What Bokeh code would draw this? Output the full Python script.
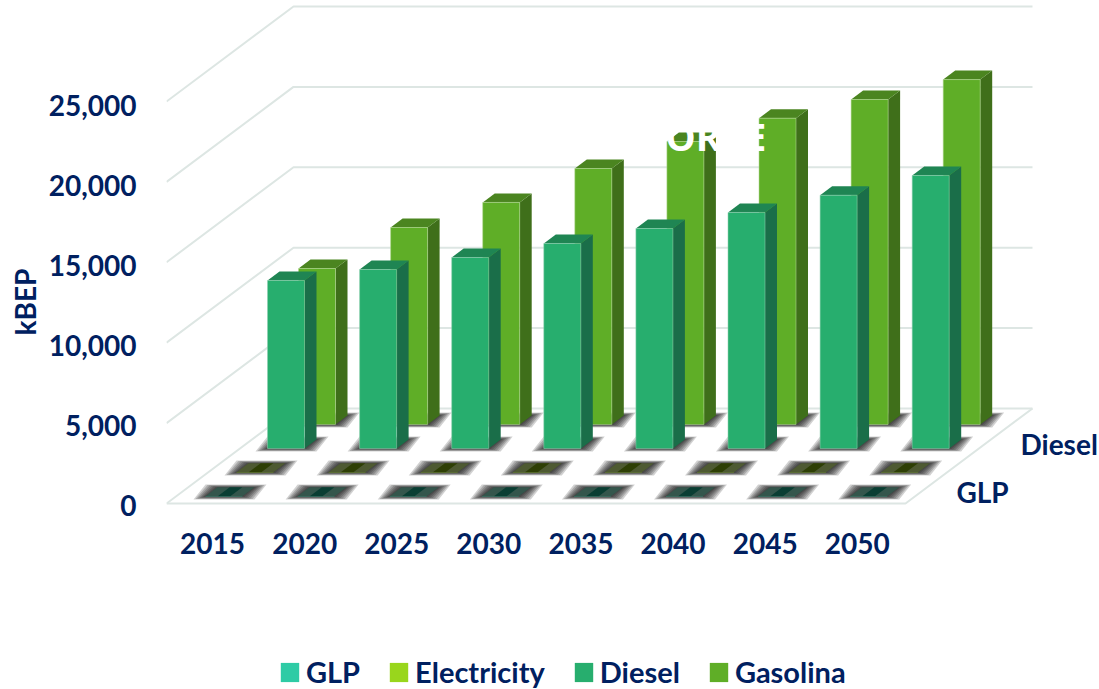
from bokeh.plotting import figure
from bokeh.models import FixedTicker, Legend, LegendItem, LinearAxis, NumeralTickFormatter, Range1d, Title
from bokeh.core.properties import value
from bokeh.embed import file_html
from bokeh.resources import INLINE

years = [2015, 2020, 2025, 2030, 2035, 2040, 2045, 2050]
glp = [10, 10, 10, 10, 10, 10, 10, 10]
electricity = [10, 10, 10, 10, 10, 10, 10, 10]
diesel = [10450, 11130, 11880, 12750, 13680, 14680, 15750, 16980]
gasolina = [9700, 12250, 13810, 15920, 17600, 19050, 20210, 21450]
value_ticks = [0, 5000, 10000, 15000, 20000, 25000]
series_names = ["GLP", "Electricity", "Diesel", "Gasolina"]
depth_labels = ["GLP", "Diesel"]
depth_label_rows = [0, 2]
watermark = "ORCE"

NAVY = "#002060"
FONT = "Lato"
GRID = "#dde6e3"
FRONT = ["#2ecba5", "#99d61c", "#27ae6e", "#5fae27"]
SIDE = ["#1a6e49", "#3f6f1a", "#1a6e49", "#3f6f1a"]
TOP = ["#0a3e33", "#2e3f05", "#1f8553", "#4b8520"]
EDGE = ["#2ecba5", "#99d61c", "#8fcfb0", "#b5d896"]
FLAT_SOFT = ["#34564c", "#4e5a32"]

# pixel scales of the projected chart
PX = 92.1          # px per category
PY = 0.01608       # px per kBEP on the back wall
PY_FRONT = 0.016   # px per kBEP on the front edge, where the value labels sit
LEFT, BOTTOM = 166, 503
WIDTH, HEIGHT = 1099, 689
TXT = "28px"


def dx(px):
    return px / PX


def dy(px):
    return px / PY


def bx(i, row, u=0.0, d=0.0, extra=0.0):
    return i - 0.5 + dx(39 + 31 * row + 37 * u + 12 * d + extra)


def by(row, v=0.0, d=0.0, extra=0.0):
    return v + dy(7 + 24 * row + 9 * d + extra)


p = figure(
    width=WIDTH, height=HEIGHT, output_backend="svg", toolbar_location=None,
    x_range=Range1d(-0.5, -0.5 + dx(WIDTH - LEFT)),
    y_range=Range1d(dy(BOTTOM - HEIGHT), dy(BOTTOM)),
    x_axis_location=None, y_axis_location=None,
    min_border_left=LEFT, min_border_right=0, min_border_top=0, min_border_bottom=0,
    outline_line_color=None, background_fill_color="white", border_fill_color="white",
)
p.styles = {"position": "absolute", "left": "0px", "top": "0px"}
p.grid.visible = False

# value axis on the front plane
p.extra_y_ranges["front"] = Range1d((BOTTOM + 2 - HEIGHT) / PY_FRONT, (BOTTOM + 2) / PY_FRONT)
ya = LinearAxis(y_range_name="front")
ya.ticker = FixedTicker(ticks=value_ticks)
ya.formatter = NumeralTickFormatter(format="0,0")
ya.axis_line_color = None
ya.major_tick_line_color = None
ya.minor_tick_line_color = None
ya.major_tick_out = 0
ya.major_tick_in = 0
ya.minor_tick_out = 0
ya.minor_tick_in = 0
ya.major_label_text_font = FONT
ya.major_label_text_font_style = "bold"
ya.major_label_text_font_size = TXT
ya.major_label_text_color = NAVY
ya.major_label_standoff = 30
p.add_layout(ya, "left")
p.add_layout(Title(text="kBEP", align="left", offset=354, standoff=7, text_font=FONT,
                   text_font_style="bold", text_font_size=TXT, text_color=NAVY), "left")

# walls and floor
DEPTH_X, DEPTH_Y = dx(127), dy(95)
FLOOR_W = dx(739)
x0, x1, x2 = -0.5, -0.5 + DEPTH_X, -0.5 + FLOOR_W + DEPTH_X
wall_xs, wall_ys = [], []
for t in value_ticks:
    wall_xs.append([x0, x1, x2])
    wall_ys.append([t, t + DEPTH_Y, t + DEPTH_Y])
wall_xs.append([x0, x0 + FLOOR_W, x2])
wall_ys.append([0, 0, DEPTH_Y])
p.multi_line(wall_xs, wall_ys, line_color=GRID, line_width=2)

rows = [glp, electricity, diesel, gasolina]


def footprint(i, row, grow_x=0.0, grow_y=0.0):
    return ([bx(i, row, 0, 0, -grow_x), bx(i, row, 1, 0, grow_x),
             bx(i, row, 1, 1, grow_x), bx(i, row, 0, 1, -grow_x)],
            [by(row, 0, 0, -grow_y), by(row, 0, 0, -grow_y),
             by(row, 0, 1, grow_y), by(row, 0, 1, grow_y)])


# soft contact shadows
for grow in [12, 10, 8, 6, 4, 2, 0]:
    xs, ys = [], []
    for row in range(4):
        for i in range(len(years)):
            a, b = footprint(i, row, grow, grow / 4)
            xs.append(a)
            ys.append(b)
    p.patches(xs, ys, fill_color="black", fill_alpha=0.18, line_color=None)

front_renderers = {}
for row in (3, 2, 1, 0):
    vals = rows[row]
    n = range(len(vals))
    fx = [[bx(i, row, 0), bx(i, row, 1), bx(i, row, 1), bx(i, row, 0)] for i in n]
    fy = [[by(row), by(row), by(row, vals[i]), by(row, vals[i])] for i in n]
    sx = [[bx(i, row, 1), bx(i, row, 1, 1), bx(i, row, 1, 1), bx(i, row, 1)] for i in n]
    sy = [[by(row), by(row, 0, 1), by(row, vals[i], 1), by(row, vals[i])] for i in n]
    tx = [[bx(i, row, 0), bx(i, row, 1), bx(i, row, 1, 1), bx(i, row, 0, 1)] for i in n]
    ty = [[by(row, vals[i]), by(row, vals[i]), by(row, vals[i], 1), by(row, vals[i], 1)] for i in n]
    if row >= 2:
        p.patches(sx, sy, fill_color=SIDE[row], line_color=None)
        p.patches(tx, ty, fill_color=TOP[row], line_color=None)
        front_renderers[row] = p.patches(fx, fy, fill_color=FRONT[row], line_color=None)
        p.multi_line([a + a[:1] for a in fx], [b + b[:1] for b in fy],
                     line_color=EDGE[row], line_alpha=0.55, line_width=1)
    else:
        p.patches(tx, ty, fill_color=FLAT_SOFT[row], line_color=None)
        mx = [[bx(i, row, 0.33), bx(i, row, 0.67), bx(i, row, 0.67, 1), bx(i, row, 0.33, 1)] for i in n]
        p.patches(mx, ty, fill_color=TOP[row], line_color=None)
        front_renderers[row] = p.patches(fx, fy, fill_color=FRONT[row], line_color=None)

# category labels
p.text(list(range(len(years))), [dy(503 - 543)] * len(years), text=[str(y) for y in years],
       text_font=value(FONT), text_font_style="bold", text_font_size=TXT, text_color=NAVY,
       text_align="center", text_baseline="middle")

# depth axis labels
lx = [-0.5 + dx(790 + 32 * r) for r in depth_label_rows]
ly = [dy(12 + 24 * r) for r in depth_label_rows]
p.text(lx, ly, text=depth_labels, text_font=value(FONT), text_font_style="bold",
       text_font_size=TXT, text_color=NAVY, text_align="left", text_baseline="middle")

# white lettering visible only over the bars
p.text([-0.5 + dx(499)], [dy(503 - 135)], text=[watermark], text_font=value("Open Sans"),
       text_font_style="bold", text_font_size="38px", text_color="white",
       text_align="left", text_baseline="middle")

legend = Legend(
    items=[LegendItem(label=value(series_names[r]), renderers=[front_renderers[r]]) for r in range(4)],
    orientation="horizontal", location=(112, 0),
    glyph_width=23, glyph_height=24, label_standoff=5, spacing=27, padding=0, margin=0,
    border_line_color=None, background_fill_alpha=0,
    label_text_font=FONT, label_text_font_style="bold", label_text_font_size="29px",
    label_text_color=NAVY,
)
p.add_layout(legend, "center")

open("out.html", "w").write(file_html(p, INLINE))
